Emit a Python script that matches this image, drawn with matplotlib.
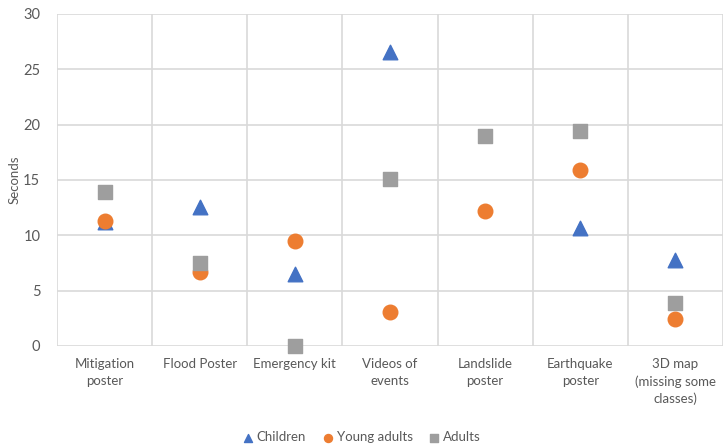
import numpy as np
import matplotlib.pyplot as plt
from matplotlib.ticker import MultipleLocator

plt.rcParams['font.family'] = ['Lato', 'DejaVu Sans']

categories = ['Mitigation\nposter', 'Flood Poster', 'Emergency kit', 'Videos of\nevents',
              'Landslide\nposter', 'Earthquake\nposter', '3D map\n(missing some\nclasses)']
children = [11.2, 12.6, 6.5, 26.6, np.nan, 10.7, 7.8]
young_adults = [11.3, 6.7, 9.5, 3.1, 12.2, 15.9, 2.4]
adults = [13.9, 7.5, 0.0, 15.1, 19.0, 19.4, 3.9]

fig = plt.figure(figsize=(7.23, 4.47), dpi=100)
ax = fig.add_axes([0.0788, 0.226, 0.9212, 0.7427])

x = np.arange(len(categories))
ax.scatter(x, children, marker='^', s=110, color='#4472C4', label='Children',
           zorder=3, clip_on=False)
ax.scatter(x, young_adults, marker='o', s=110, color='#ED7D31', label='Young adults',
           zorder=3, clip_on=False)
ax.scatter(x, adults, marker='s', s=100, color='#9E9E9E', label='Adults',
           zorder=3, clip_on=False)

ax.set_xlim(-0.5, len(categories) - 0.5)
ax.set_ylim(0, 30)
ax.yaxis.set_major_locator(MultipleLocator(5))
ax.set_xticks(x)
ax.set_xticklabels(categories, fontsize=9.5, color='#595959', linespacing=1.45)
ax.set_xticks(np.arange(len(categories) + 1) - 0.5, minor=True)
ax.tick_params(axis='y', labelsize=10.5, colors='#595959', length=0, pad=12)
ax.tick_params(axis='x', which='both', length=0, pad=9)

ax.grid(axis='y', color='#D9D9D9', linewidth=1.2)
ax.grid(axis='x', which='minor', color='#D9D9D9', linewidth=1.2)
for s in ax.spines.values():
    s.set_visible(False)
ax.set_axisbelow(True)

ax.set_ylabel('Seconds', fontsize=9.5, color='#595959', labelpad=2)

fig.legend(loc='lower center', bbox_to_anchor=(0.5, -0.018), ncol=3, frameon=False,
           fontsize=9.5, labelcolor='#595959', handlelength=0.9, handletextpad=0.2,
           columnspacing=1.2, markerscale=0.55)

fig.savefig('out.png', dpi=100)
